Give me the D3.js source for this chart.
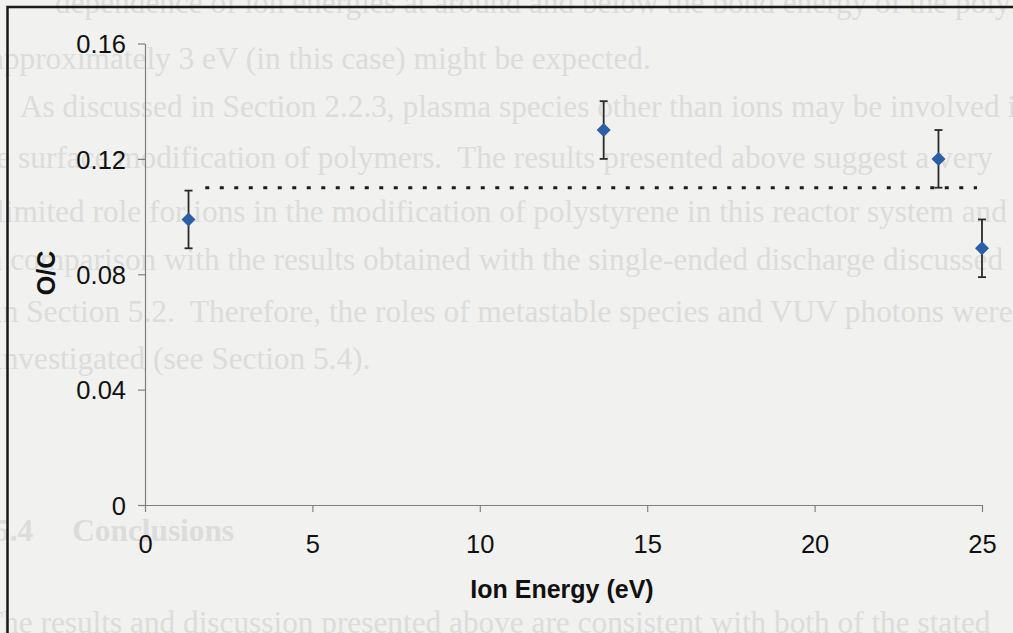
<!DOCTYPE html>
<html>
<head>
<meta charset="utf-8">
<script src="https://cdn.jsdelivr.net/npm/d3@7"></script>
<style>
  html, body { margin: 0; padding: 0; background: #f1f1f0; }
  svg { display: block; }
</style>
</head>
<body>
<div id="chart"></div>
<script>
// data
const energy = [1.3, 13.7, 23.7, 25];          // Ion Energy (eV)
const ratio = [0.099, 0.130, 0.120, 0.089];     // O/C
const errors = [0.010, 0.010, 0.010, 0.010];    // +/- error
const refLineX = [1.8, 24.85];                  // dotted reference line
const refLineY = 0.11;
const xTicks = [0, 5, 10, 15, 20, 25];
const yTicks = [0, 0.04, 0.08, 0.12, 0.16];

// faint text showing through the scanned page
const ghostLines = [
  "dependence of ion energies at around and below the bond energy of the polymer",
  "approximately 3 eV (in this case) might be expected.",
  "As discussed in Section 2.2.3, plasma species other than ions may be involved in",
  "the surface modification of polymers.  The results presented above suggest a very",
  "limited role for ions in the modification of polystyrene in this reactor system and",
  "in comparison with the results obtained with the single-ended discharge discussed",
  "in Section 5.2.  Therefore, the roles of metastable species and VUV photons were",
  "investigated (see Section 5.4).",
  "5.4     Conclusions",
  "The results and discussion presented above are consistent with both of the stated"
];
const ghostBaselines = [13, 69, 117, 168, 222, 270, 322, 369, 541, 633];
const ghostStartX = [55, -10, 20, -28, -4, -22, -6, -6, -6, -16];

const W = 1013, H = 633;
const svg = d3.select("#chart").append("svg")
    .attr("width", W)
    .attr("height", H);

// pick the ghost font size so the "As discussed ..." line spans ~980px like the scan
const probe = svg.append("text")
    .style("font-family", "'Liberation Serif', serif")
    .style("font-size", "20px")
    .text("As discussed in Section 2.2.3, plasma species other than ions may be involved");
const ghostSize = 20 * 980 / probe.node().getComputedTextLength();
probe.remove();

const ghost = svg.append("g")
    .attr("fill", "#dcdcdb")
    .style("font-family", "'Liberation Serif', serif")
    .style("font-size", ghostSize + "px");
ghost.selectAll("text")
  .data(ghostLines)
  .enter().append("text")
    .attr("x", (d, i) => ghostStartX[i])
    .attr("y", (d, i) => ghostBaselines[i])
    .style("font-weight", (d, i) => i == 8 ? "bold" : null)
    .attr("xml:space", "preserve")
    .text(d => d);

// frame of the chart area (runs off the right and bottom of the scan)
svg.append("rect")
    .attr("x", 7.5).attr("y", 7)
    .attr("width", 1100).attr("height", 700)
    .attr("fill", "none")
    .attr("stroke", "#1a1a1a")
    .attr("stroke-width", 2.5);

const x = d3.scaleLinear().domain([0, 25]).range([145, 982]);
const y = d3.scaleLinear().domain([0, 0.16]).range([505, 43.5]);

const fmt = d => d === 0 ? "0" : d.toFixed(2);

// y axis
const yAxis = svg.append("g")
    .attr("transform", "translate(145,0)")
    .call(d3.axisLeft(y).tickValues(yTicks).tickFormat(fmt).tickSize(7).tickSizeOuter(0).tickPadding(12));
// x axis
const xAxis = svg.append("g")
    .attr("transform", "translate(0,505)")
    .call(d3.axisBottom(x).tickValues(xTicks).tickSize(7).tickSizeOuter(0).tickPadding(23));

[yAxis, xAxis].forEach(a => {
  a.select(".domain").attr("stroke", "#808080").attr("stroke-width", 1.2);
  a.selectAll(".tick line").attr("stroke", "#808080").attr("stroke-width", 1.2);
  a.selectAll(".tick text")
    .attr("fill", "#111")
    .style("font-family", "'Liberation Sans', Arial, sans-serif")
    .style("font-size", "25.5px");
});
yAxis.selectAll(".tick text").attr("dy", "0.36em");

// dotted reference line
svg.append("line")
    .attr("x1", x(refLineX[0])).attr("x2", x(refLineX[1]))
    .attr("y1", y(refLineY)).attr("y2", y(refLineY))
    .attr("stroke", "#1c1c1c")
    .attr("stroke-width", 3)
    .attr("stroke-dasharray", "4,10.5");

// error bars
const pts = energy.map((e, i) => ({x: e, y: ratio[i], err: errors[i]}));
const bars = svg.append("g").attr("stroke", "#2a2a2a").attr("stroke-width", 1.8);
bars.selectAll("line.err")
  .data(pts).enter().append("line")
    .attr("class", "err")
    .attr("x1", d => x(d.x)).attr("x2", d => x(d.x))
    .attr("y1", d => y(d.y - d.err)).attr("y2", d => y(d.y + d.err));
bars.selectAll("line.capTop")
  .data(pts).enter().append("line")
    .attr("class", "capTop")
    .attr("x1", d => x(d.x) - 4).attr("x2", d => x(d.x) + 4)
    .attr("y1", d => y(d.y + d.err)).attr("y2", d => y(d.y + d.err));
bars.selectAll("line.capBot")
  .data(pts).enter().append("line")
    .attr("class", "capBot")
    .attr("x1", d => x(d.x) - 4).attr("x2", d => x(d.x) + 4)
    .attr("y1", d => y(d.y - d.err)).attr("y2", d => y(d.y - d.err));

// diamond markers
svg.selectAll("path.pt")
  .data(pts).enter().append("path")
    .attr("class", "pt")
    .attr("d", "M0,-7L7,0L0,7L-7,0Z")
    .attr("transform", d => `translate(${x(d.x)},${y(d.y)})`)
    .attr("fill", "#2b5ea6");

// axis titles
svg.append("text")
    .attr("x", 562).attr("y", 598)
    .attr("text-anchor", "middle")
    .style("font-family", "'Liberation Sans', Arial, sans-serif")
    .style("font-size", "25px")
    .style("font-weight", "bold")
    .attr("fill", "#111")
    .text("Ion Energy (eV)");

svg.append("text")
    .attr("transform", "translate(55,273) rotate(-90)")
    .attr("text-anchor", "middle")
    .style("font-family", "'Liberation Sans', Arial, sans-serif")
    .style("font-size", "25px")
    .style("font-weight", "bold")
    .attr("fill", "#111")
    .text("O/C");
</script>
</body>
</html>
